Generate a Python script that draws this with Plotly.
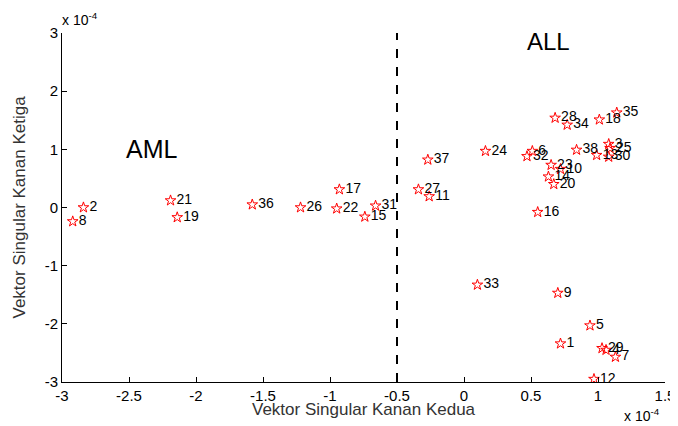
import plotly.graph_objects as go

labels = ["1","2","3","4","5","6","7","8","9","10","11","12","13","14","15","16","17","18","19",
          "20","21","22","23","24","25","26","27","28","29","30","31","32","33","34","35","36","37","38"]
x_vals = [0.72,-2.84,1.08,1.06,0.94,0.51,1.13,-2.92,0.70,0.72,-0.26,0.97,0.99,0.63,-0.74,0.55,-0.93,1.01,-2.14,
          0.67,-2.19,-0.95,0.65,0.16,1.09,-1.22,-0.34,0.68,1.03,1.08,-0.66,0.47,0.10,0.77,1.14,-1.58,-0.27,0.84]
y_vals = [-2.34,0.00,1.09,-2.45,-2.03,0.97,-2.57,-0.24,-1.47,0.66,0.19,-2.95,0.90,0.53,-0.16,-0.08,0.31,1.51,-0.17,
          0.40,0.12,-0.02,0.73,0.97,1.02,0.00,0.31,1.54,-2.42,0.87,0.03,0.88,-1.33,1.42,1.63,0.05,0.82,0.99]
x_ticks = [-3,-2.5,-2,-1.5,-1,-0.5,0,0.5,1,1.5]
y_ticks = [-3,-2,-1,0,1,2,3]
divider_x = -0.5

font_family = "Liberation Sans, Arial, sans-serif"

fig = go.Figure()
fig.add_trace(go.Scatter(
    x=[divider_x, divider_x], y=[-3, 3], mode="lines",
    line=dict(color="black", width=2, dash="dash"), hoverinfo="skip", showlegend=False))
fig.add_trace(go.Scatter(
    x=x_vals, y=y_vals, mode="markers+text", text=labels,
    textposition="middle right", textfont=dict(size=14, color="black", family=font_family),
    marker=dict(symbol="star-open", size=8, color="red", line=dict(width=1, color="red")),
    showlegend=False))

fig.add_annotation(x=-2.33, y=1.0, text="AML", showarrow=False,
                   font=dict(size=25, color="black", family=font_family))
fig.add_annotation(x=0.63, y=2.85, text="ALL", showarrow=False,
                   font=dict(size=24, color="black", family=font_family))
fig.add_annotation(xref="paper", yref="paper", x=0.0, y=1.0, xanchor="left", yanchor="bottom",
                   xshift=-2, yshift=3, text="x 10<sup>-4</sup>", showarrow=False,
                   font=dict(size=14, color="black", family=font_family))
fig.add_annotation(xref="paper", yref="paper", x=1.0, y=0.0, xanchor="right", yanchor="top",
                   xshift=-3, yshift=-22, text="x 10<sup>-4</sup>", showarrow=False,
                   font=dict(size=14, color="black", family=font_family))
fig.add_annotation(xref="paper", yref="paper", x=0.5, y=0.0, xanchor="center", yanchor="top",
                   yshift=-16, text="Vektor Singular Kanan Kedua", showarrow=False,
                   font=dict(size=17, color="#333333", family=font_family))
fig.add_annotation(xref="paper", yref="paper", x=0.0, y=0.5, xanchor="center", yanchor="middle",
                   xshift=-43, text="Vektor Singular Kanan Ketiga", showarrow=False, textangle=-90,
                   font=dict(size=17, color="#333333", family=font_family))

fig.update_layout(
    width=670, height=418,
    margin=dict(l=54, r=13, t=25, b=44),
    paper_bgcolor="white", plot_bgcolor="white",
    font=dict(family=font_family, color="black", size=15),
    xaxis=dict(range=[-3, 1.5], tickvals=x_ticks, ticktext=[str(t) for t in x_ticks],
               showgrid=False, zeroline=False, showline=True, linecolor="black", linewidth=1,
               ticks="inside", ticklen=5, tickcolor="black", mirror=False, automargin=False,
               tickfont=dict(size=15)),
    yaxis=dict(range=[-3, 3], tickvals=y_ticks, ticktext=[str(t) for t in y_ticks],
               showgrid=False, zeroline=False, showline=True, linecolor="black", linewidth=1,
               ticks="inside", ticklen=5, tickcolor="black", mirror=False, automargin=False,
               tickfont=dict(size=15)),
)

fig.write_html("out.html")
